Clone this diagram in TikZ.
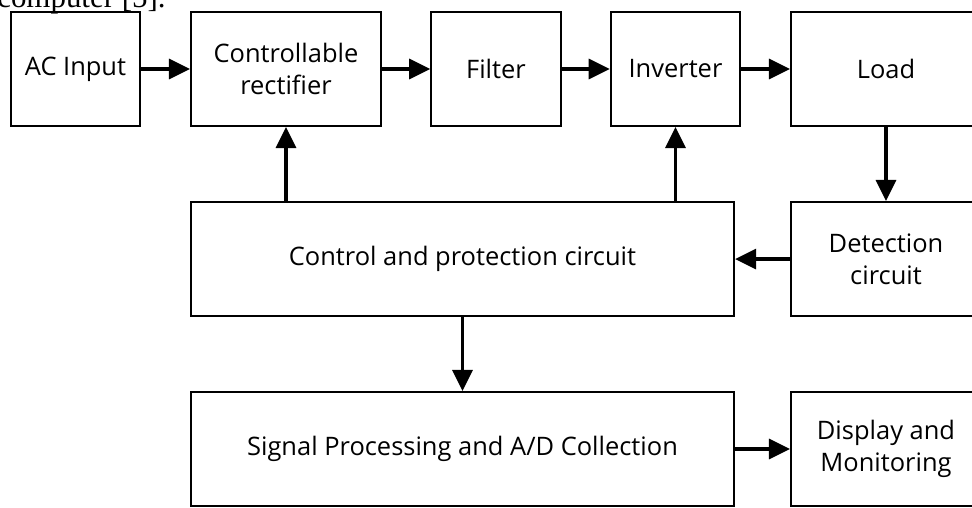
\documentclass[tikz,border=0pt]{standalone}
\usepackage{fontspec}
\setmainfont{Open Sans}
\newfontfamily\captionserif{Liberation Serif}
\usetikzlibrary{positioning,arrows.meta}

\begin{document}
\begin{tikzpicture}[
  x=0.025cm, y=-0.025cm,
  every node/.style={font=\fontsize{18.1}{22.5}\selectfont},
  block/.style={draw, line width=1.3pt, align=center,
                minimum height=2.85cm, inner sep=2pt},
  narrow/.style={block, minimum width=3.24cm},
  wide/.style={block, minimum width=4.75cm},
  long/.style={block, minimum width=13.575cm},
  arrow/.style={-{Triangle[length=15pt, width=14pt]}, line width=2.8pt},
  flow/.style={arrow},
]
\useasboundingbox (0,0) rectangle (972,507);
\clip (0,0) rectangle (972,507);

% ---- cut-off line of running text ------------------------------------
\node[anchor=base west, inner sep=0pt, font=\captionserif\fontsize{22}{26}\selectfont]
      (prev) at (-3,7) {computer [5].};

% ---- power stage -----------------------------------------------------
\node[narrow] (ac)   at (75.5,69)  {AC Input};
\node[wide]   (rect) at (286,69)   {Controllable\\rectifier};
\node[narrow] (filt) at (496,69)   {Filter};
\node[narrow] (inv)  at (675.5,69) {Inverter};
\node[wide]   (load) at (886,69)   {Load};

% ---- control stage ---------------------------------------------------
\node[long] (ctrl) at (462.5,259) {Control and protection circuit};
\node[wide] (det)  at (886,259)   {Detection\\circuit};

% ---- measurement and display -----------------------------------------
\node[long] (sig)  at (462.5,449) {Signal Processing and A/D Collection};
\node[wide] (disp) at (886,449)   {Display and\\Monitoring};

% ---- forward flow ----------------------------------------------------
\draw[flow] (ac) -- (rect);
\draw[flow] (rect) -- (filt);
\draw[flow] (filt) -- (inv);
\draw[flow] (inv) -- (load);
\draw[flow] (load) -- (det);
\draw[flow] (det) -- (ctrl);

% ---- control outputs -------------------------------------------------
\draw[flow] (ctrl.north -| rect) -- (rect);
\draw[flow] (ctrl.north -| inv) -- (inv);
\draw[flow] (ctrl) -- (sig);
\draw[flow] (sig) -- (disp);

\end{tikzpicture}
\end{document}
